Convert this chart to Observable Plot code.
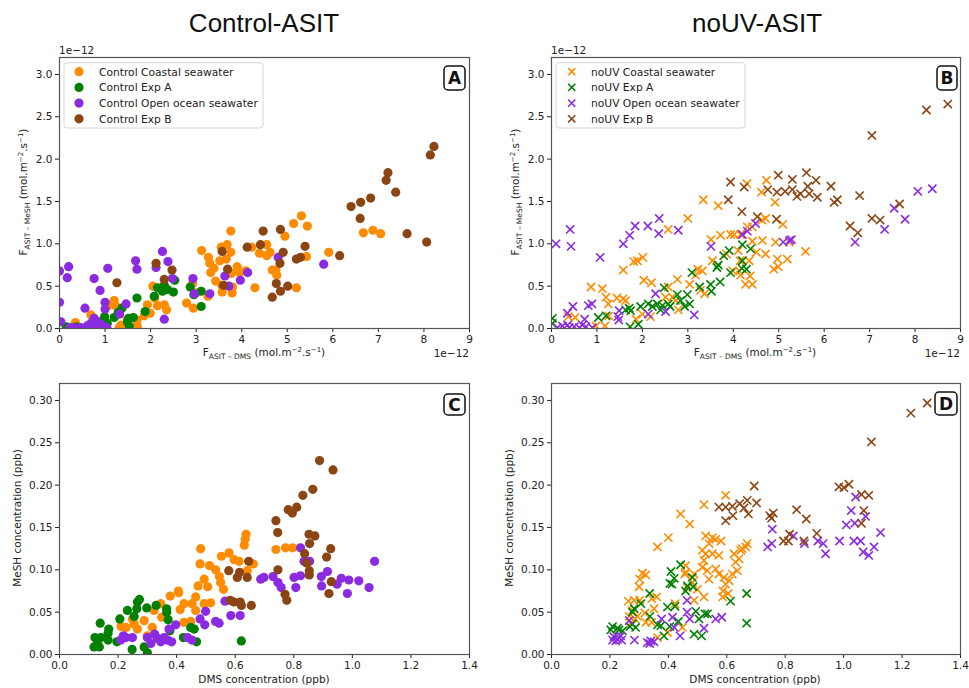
<!DOCTYPE html>
<html><head><meta charset="utf-8">
<script src="https://cdn.jsdelivr.net/npm/d3@7"></script>
<script src="https://cdn.jsdelivr.net/npm/@observablehq/plot@0.6"></script>
<style>
body{margin:0;background:#fff;}
#wrap{position:relative;width:969px;height:688px;font-family:"DejaVu Sans",sans-serif;overflow:hidden;}
.title{position:absolute;top:8px;font-family:"Liberation Sans",Arial,sans-serif;font-size:26px;line-height:30px;color:#111;width:300px;text-align:center;}
.panel{position:absolute;}
</style></head><body>
<div id="wrap">
<div class="title" style="left:114px">Control-ASIT</div>
<div class="title" style="left:607px">noUV-ASIT</div>
</div>
<script>
// ---------- DATA ----------
const seriesColors = ["#ff8c00", "#008000", "#8a2be2", "#8b4513"];
const controlLabels = ["Control Coastal seawater", "Control Exp A", "Control Open ocean seawater", "Control Exp B"];
const noUVLabels = ["noUV Coastal seawater", "noUV Exp A", "noUV Open ocean seawater", "noUV Exp B"];
const fluxTicksX = [0,1,2,3,4,5,6,7,8,9];
const fluxTicksY = [0,0.5,1.0,1.5,2.0,2.5,3.0];
const concTicksX = [0,0.2,0.4,0.6,0.8,1.0,1.2,1.4];
const concTicksY = [0,0.05,0.10,0.15,0.20,0.25,0.30];

// Panel A: Control fluxes [F_DMS (1e-12), F_MeSH (1e-12)]
const ctrlCoastalFlux = [[5.31,1.33],[5.14,1.24],[5.44,1.21],[4.95,1.09],[3.76,1.15],[6.67,1.13],[6.88,1.16],[7.05,1.12],[5.91,0.90],[5.42,0.85],[4.55,0.99],[4.39,0.89],[4.55,0.86],[4.62,0.90],[4.22,0.96],[3.12,0.92],[3.55,0.96],[3.68,0.99],[3.76,0.90],[3.66,0.82],[3.52,0.80],[3.27,0.84],[3.30,0.77],[3.39,0.71],[3.32,0.66],[3.43,0.56],[3.90,0.73],[3.95,0.66],[4.09,0.68],[3.77,0.65],[4.67,0.69],[4.75,0.69],[4.77,0.63],[4.29,0.48],[5.20,0.48],[3.57,0.43],[3.79,0.42],[3.80,0.49],[3.56,0.51],[2.92,0.53],[3.00,0.42],[3.26,0.38],[2.79,0.30],[2.94,0.24],[2.05,0.50],[2.09,0.36],[1.93,0.28],[2.15,0.27],[1.99,0.18],[2.30,0.28],[2.35,0.22],[1.86,0.15],[1.20,0.33],[1.23,0.27],[1.07,0.27],[0.69,0.16],[0.81,0.09],[0.35,0.07],[1.35,0.04],[1.70,0.04],[1.70,0.10],[1.49,0.11],[1.31,0.01],[1.71,0.01]];
const ctrlExpAFlux = [[2.53,0.57],[2.30,0.51],[2.15,0.48],[2.26,0.44],[2.37,0.46],[2.50,0.43],[2.08,0.38],[2.87,0.49],[2.95,0.40],[3.11,0.44],[3.11,0.26],[1.70,0.36],[1.88,0.20],[1.37,0.24],[1.29,0.19],[1.20,0.13],[0.99,0.14],[1.52,0.12],[1.62,0.13],[1.49,0.08],[1.53,0.03],[1.05,0.06],[0.91,0.08],[0.15,0.02],[0.37,0.02],[0.58,0.01]];
const ctrlOpenFlux = [[2.26,0.91],[2.38,0.79],[2.12,0.72],[1.67,0.80],[1.70,0.70],[1.06,0.71],[0.20,0.73],[0.00,0.68],[0.17,0.60],[0.76,0.59],[0.89,0.45],[0.56,0.24],[1.00,0.31],[1.00,0.23],[1.46,0.29],[1.32,0.17],[0.00,0.31],[0.03,0.08],[2.30,0.11],[2.48,0.59],[2.93,0.59],[2.96,0.41],[3.30,0.41],[3.63,0.62],[3.72,0.50],[3.97,0.57],[4.13,0.66],[4.80,0.84],[5.80,0.76],[0.69,0.06],[0.76,0.12],[0.83,0.08],[0.91,0.05],[0.98,0.02],[0.61,0.03],[0.47,0.01],[0.32,0.01],[0.23,0.01],[0.80,0.01],[0.73,0.01],[0.89,0.01],[1.04,0.01]];
const ctrlExpBFlux = [[8.22,2.15],[8.14,2.05],[7.21,1.84],[7.17,1.75],[7.38,1.61],[6.83,1.54],[6.61,1.49],[6.40,1.44],[6.60,1.30],[7.63,1.12],[8.06,1.02],[6.15,0.86],[4.47,1.15],[4.85,1.17],[4.41,0.99],[4.12,0.96],[5.39,0.97],[4.91,0.90],[5.29,0.84],[5.20,0.82],[4.84,0.77],[3.57,0.91],[3.69,0.70],[3.60,0.51],[4.76,0.53],[5.01,0.50],[4.85,0.44],[4.67,0.37],[1.26,0.54],[2.12,0.77],[2.47,0.69],[2.30,0.58]];

// Panel B: noUV fluxes
const noUVCoastalFlux = [[4.30,1.71],[4.73,1.75],[4.62,1.61],[3.34,1.52],[3.67,1.45],[3.00,1.30],[2.57,1.17],[4.71,1.30],[4.63,1.28],[5.09,1.23],[4.92,1.49],[4.31,1.20],[4.42,1.20],[3.72,1.10],[3.94,1.11],[4.02,1.11],[4.16,1.11],[3.51,1.05],[4.42,1.03],[4.64,1.04],[4.93,1.02],[5.23,1.02],[5.59,0.91],[4.51,0.90],[4.71,0.88],[4.11,0.92],[3.85,0.88],[3.54,0.80],[4.15,0.80],[4.35,0.80],[4.97,0.82],[5.19,0.82],[4.99,0.73],[4.89,0.70],[4.13,0.68],[4.16,0.63],[4.37,0.62],[4.27,0.52],[4.42,0.52],[3.99,0.68],[3.22,0.70],[3.32,0.68],[3.17,0.63],[3.37,0.41],[3.28,0.45],[3.04,0.52],[2.77,0.58],[2.57,0.49],[2.03,0.57],[2.20,0.54],[1.58,0.69],[1.81,0.79],[1.89,0.80],[2.01,0.84],[0.87,0.49],[1.12,0.47],[1.20,0.37],[1.25,0.29],[1.44,0.36],[1.57,0.35],[1.63,0.33],[1.86,0.11],[2.00,0.17],[2.18,0.14],[2.66,0.37],[2.73,0.33],[2.79,0.22],[2.51,0.37],[0.52,0.13],[0.37,0.14],[0.98,0.03],[1.18,0.03],[1.26,0.15]];
const noUVExpAFlux = [[3.91,0.92],[3.79,0.86],[4.20,0.99],[4.38,0.94],[4.20,0.80],[4.19,0.71],[4.29,0.70],[3.94,0.66],[3.67,0.75],[3.64,0.72],[3.71,0.55],[3.50,0.52],[3.52,0.44],[3.26,0.49],[3.09,0.66],[2.99,0.40],[3.04,0.29],[2.93,0.26],[2.77,0.40],[2.48,0.48],[2.57,0.29],[2.61,0.26],[2.44,0.27],[2.33,0.29],[2.22,0.26],[2.13,0.29],[1.96,0.26],[1.71,0.24],[1.63,0.22],[1.74,0.21],[1.20,0.15],[1.03,0.13],[0.02,0.12],[0.02,0.06],[1.73,0.02],[1.91,0.05],[2.84,0.33],[2.40,0.22]];
const noUVOpenFlux = [[8.38,1.65],[8.06,1.62],[7.54,1.42],[7.78,1.29],[7.33,1.17],[6.68,1.02],[4.49,1.24],[4.31,1.15],[4.20,1.11],[5.10,1.02],[5.24,1.04],[5.28,1.05],[3.51,0.97],[2.37,1.30],[2.12,1.21],[1.84,1.21],[1.72,1.10],[1.58,1.00],[2.36,1.12],[2.79,1.16],[0.41,1.17],[0.43,0.97],[0.10,1.00],[1.07,0.84],[2.29,0.41],[2.13,0.17],[2.51,0.20],[3.14,0.16],[0.47,0.26],[0.35,0.18],[0.81,0.27],[0.89,0.29],[1.49,0.21],[1.46,0.14],[1.48,0.10],[0.73,0.11],[0.13,0.01],[0.24,0.03],[0.35,0.04],[0.50,0.02],[0.61,0.01],[0.76,0.02],[0.90,0.01],[0.39,0.01],[0.68,0.04]];
const noUVExpBFlux = [[8.72,2.65],[8.25,2.58],[7.05,2.28],[5.61,1.84],[4.99,1.81],[5.30,1.76],[5.82,1.75],[3.94,1.73],[4.24,1.67],[5.64,1.68],[6.15,1.68],[4.76,1.64],[4.96,1.61],[5.14,1.62],[5.30,1.64],[5.48,1.59],[5.40,1.56],[5.67,1.59],[5.85,1.55],[6.22,1.49],[6.29,1.52],[6.78,1.57],[3.89,1.52],[4.19,1.38],[4.53,1.32],[4.95,1.29],[7.05,1.30],[7.23,1.28],[6.57,1.21],[6.74,1.13],[7.66,1.47]];

// Panel C: Control concentrations [DMS ppb, MeSH ppb]
const ctrlCoastalConc = [[0.637,0.142],[0.634,0.136],[0.631,0.129],[0.739,0.124],[0.772,0.126],[0.796,0.126],[0.482,0.125],[0.579,0.120],[0.553,0.116],[0.596,0.112],[0.613,0.110],[0.662,0.107],[0.641,0.099],[0.480,0.107],[0.512,0.105],[0.533,0.100],[0.546,0.092],[0.550,0.085],[0.560,0.077],[0.494,0.089],[0.473,0.081],[0.506,0.080],[0.406,0.075],[0.407,0.073],[0.378,0.069],[0.346,0.060],[0.425,0.060],[0.453,0.060],[0.465,0.068],[0.465,0.052],[0.412,0.053],[0.516,0.061],[0.494,0.060],[0.425,0.038],[0.448,0.039],[0.323,0.052],[0.349,0.044],[0.289,0.040],[0.249,0.042],[0.255,0.036],[0.227,0.032],[0.210,0.033],[0.266,0.030],[0.300,0.022],[0.317,0.032]];
const ctrlExpAConc = [[0.273,0.065],[0.266,0.062],[0.298,0.055],[0.264,0.054],[0.232,0.052],[0.330,0.058],[0.366,0.054],[0.366,0.050],[0.371,0.041],[0.206,0.042],[0.255,0.045],[0.139,0.037],[0.168,0.030],[0.166,0.025],[0.121,0.020],[0.141,0.020],[0.130,0.016],[0.118,0.009],[0.136,0.009],[0.166,0.017],[0.196,0.015],[0.248,0.006],[0.289,0.009],[0.300,0.002],[0.448,0.032],[0.460,0.030],[0.468,0.015],[0.621,0.016],[0.423,0.020],[0.377,0.028]];
const ctrlOpenConc = [[1.076,0.110],[0.823,0.126],[0.835,0.110],[0.854,0.110],[0.687,0.089],[0.698,0.091],[0.729,0.092],[0.746,0.085],[0.757,0.079],[0.801,0.091],[0.823,0.093],[0.807,0.079],[0.894,0.092],[0.895,0.081],[0.915,0.098],[0.948,0.083],[0.962,0.090],[0.983,0.072],[0.988,0.088],[1.022,0.087],[1.057,0.079],[0.565,0.063],[0.585,0.046],[0.617,0.046],[0.533,0.039],[0.545,0.037],[0.499,0.051],[0.496,0.035],[0.480,0.042],[0.437,0.020],[0.452,0.017],[0.397,0.035],[0.374,0.030],[0.357,0.020],[0.346,0.015],[0.325,0.024],[0.312,0.013],[0.334,0.019],[0.369,0.017],[0.383,0.015],[0.300,0.020],[0.227,0.020],[0.249,0.020],[0.209,0.017],[0.218,0.022]];
const ctrlExpBConc = [[0.888,0.229],[0.934,0.218],[0.865,0.195],[0.831,0.188],[0.810,0.174],[0.781,0.171],[0.795,0.167],[0.739,0.158],[0.745,0.144],[0.852,0.142],[0.872,0.140],[0.854,0.131],[0.926,0.125],[0.837,0.119],[0.844,0.108],[0.912,0.115],[0.853,0.099],[0.853,0.094],[0.746,0.100],[0.928,0.086],[0.920,0.072],[0.770,0.071],[0.776,0.064],[0.646,0.110],[0.641,0.091],[0.615,0.097],[0.607,0.091],[0.578,0.099],[0.583,0.064],[0.596,0.062],[0.617,0.062],[0.621,0.058],[0.655,0.058]];

// Panel D: noUV concentrations
const noUVCoastalConc = [[0.596,0.188],[0.522,0.177],[0.442,0.166],[0.473,0.154],[0.400,0.138],[0.363,0.127],[0.528,0.140],[0.551,0.138],[0.562,0.136],[0.580,0.134],[0.539,0.131],[0.516,0.123],[0.528,0.119],[0.551,0.119],[0.573,0.117],[0.522,0.111],[0.516,0.103],[0.533,0.099],[0.562,0.101],[0.573,0.095],[0.539,0.089],[0.590,0.091],[0.596,0.083],[0.608,0.087],[0.587,0.075],[0.586,0.068],[0.605,0.072],[0.619,0.095],[0.636,0.099],[0.630,0.109],[0.642,0.113],[0.625,0.119],[0.648,0.123],[0.665,0.127],[0.653,0.125],[0.670,0.131],[0.459,0.105],[0.457,0.095],[0.488,0.095],[0.482,0.085],[0.499,0.077],[0.488,0.064],[0.522,0.068],[0.465,0.079],[0.311,0.096],[0.302,0.089],[0.300,0.080],[0.323,0.094],[0.263,0.063],[0.283,0.064],[0.302,0.064],[0.360,0.068],[0.343,0.066],[0.277,0.052],[0.266,0.045],[0.294,0.045],[0.271,0.037],[0.286,0.042],[0.320,0.049],[0.351,0.054],[0.323,0.038],[0.343,0.038],[0.363,0.020],[0.397,0.026],[0.423,0.060],[0.448,0.032],[0.459,0.097]];
const noUVExpAConc = [[0.482,0.091],[0.485,0.080],[0.459,0.075],[0.465,0.081],[0.442,0.106],[0.409,0.098],[0.405,0.084],[0.412,0.083],[0.420,0.090],[0.423,0.057],[0.397,0.056],[0.613,0.063],[0.668,0.072],[0.668,0.037],[0.336,0.072],[0.306,0.060],[0.283,0.054],[0.277,0.050],[0.337,0.045],[0.363,0.035],[0.374,0.034],[0.385,0.022],[0.405,0.033],[0.434,0.039],[0.488,0.024],[0.514,0.022],[0.494,0.051],[0.505,0.042],[0.525,0.048],[0.534,0.048],[0.268,0.033],[0.288,0.032],[0.209,0.033],[0.226,0.031],[0.231,0.029],[0.203,0.029],[0.243,0.028],[0.277,0.036]];
const noUVOpenConc = [[1.075,0.163],[1.041,0.186],[1.026,0.170],[1.009,0.153],[1.038,0.155],[1.126,0.144],[1.104,0.127],[1.086,0.117],[1.067,0.121],[1.058,0.134],[1.035,0.134],[0.986,0.134],[0.912,0.134],[0.930,0.131],[0.938,0.119],[0.866,0.131],[0.828,0.140],[0.756,0.148],[0.754,0.131],[0.740,0.127],[0.583,0.044],[0.562,0.042],[0.464,0.064],[0.464,0.050],[0.473,0.042],[0.414,0.044],[0.420,0.032],[0.440,0.022],[0.377,0.042],[0.522,0.031],[0.266,0.040],[0.284,0.017],[0.214,0.021],[0.226,0.018],[0.231,0.020],[0.237,0.022],[0.220,0.016],[0.209,0.017],[0.240,0.017],[0.328,0.014],[0.340,0.016],[0.351,0.015],[0.336,0.013]];
const noUVExpBConc = [[1.286,0.297],[1.230,0.285],[1.095,0.251],[0.694,0.199],[0.984,0.198],[1.001,0.197],[1.018,0.201],[1.061,0.189],[1.086,0.188],[1.069,0.170],[1.061,0.155],[0.596,0.174],[0.573,0.174],[0.619,0.175],[0.644,0.178],[0.670,0.182],[0.702,0.179],[0.659,0.173],[0.674,0.166],[0.596,0.158],[0.621,0.164],[0.747,0.164],[0.759,0.167],[0.753,0.161],[0.839,0.171],[0.872,0.160],[0.908,0.143],[0.815,0.142],[0.811,0.134],[0.794,0.134],[0.864,0.134]];

// ---------- DRAWING ----------
const FONT = "DejaVu Sans";
const wrap = document.getElementById("wrap");

function addLabel(g, x, y, parts, rotate) {
  const t = g.append("text")
    .attr("font-family", FONT).attr("font-size", 10.5).attr("fill", "#222")
    .attr("text-anchor", "middle")
    .attr("transform", `translate(${x},${y})` + (rotate ? " rotate(-90)" : ""));
  parts.forEach(p => {
    const ts = t.append("tspan").text(p.t);
    if (p.sub) ts.attr("font-size", 7.5).attr("dy", 2.5);
    else if (p.sup) ts.attr("font-size", 7).attr("dy", -4);
    if (p.back) ts.attr("dy", p.back);
  });
  return t;
}

function fluxLabel(kind) {
  return [
    {t: "F"}, {t: "ASIT – " + kind, sub: true},
    {t: " (mol.m", back: -2.5}, {t: "−2", sup: true}, {t: ".s", back: 4}, {t: "−1", sup: true}, {t: ")", back: 4}
  ];
}

function panel(cfg) {
  const div = document.createElement("div");
  div.className = "panel";
  div.style.left = cfg.left + "px";
  div.style.top = cfg.top + "px";
  wrap.appendChild(div);

  const marks = [
    Plot.axisX({ticks: cfg.xTicks, tickFormat: cfg.xFmt, tickSize: 4, tickPadding: 3, label: null, fontSize: 10.5}),
    Plot.axisY({ticks: cfg.yTicks, tickFormat: cfg.yFmt, tickSize: 4, tickPadding: 3, label: null, fontSize: 10.5})
  ];
  cfg.series.forEach((s, i) => {
    if (cfg.cross) {
      marks.push(Plot.dot(s, {x: d => d[0], y: d => d[1], symbol: "times", stroke: seriesColors[i], strokeWidth: 1.6, r: 3.8, clip: true}));
    } else {
      marks.push(Plot.dot(s, {x: d => d[0], y: d => d[1], fill: seriesColors[i], r: 4.6, clip: true}));
    }
  });
  marks.push(Plot.frame({stroke: "#555", strokeWidth: 1.2}));

  const svg = Plot.plot({
    width: cfg.width, height: cfg.height,
    marginLeft: cfg.ml, marginRight: cfg.mr, marginTop: cfg.mt, marginBottom: cfg.mb,
    x: {domain: cfg.xDomain},
    y: {domain: cfg.yDomain},
    style: {fontFamily: FONT, fontSize: "10.5px", color: "#222", background: "transparent", overflow: "visible"},
    marks
  });
  div.appendChild(svg);
  const g = d3.select(svg).append("g");

  // axis labels
  addLabel(g, cfg.xLabelX, cfg.xLabelY, cfg.xLabel, false);
  addLabel(g, cfg.yLabelX, cfg.yLabelY, cfg.yLabel, true);

  // offset texts
  if (cfg.offset) {
    g.append("text").attr("x", cfg.ml).attr("y", 14).attr("text-anchor", "start").attr("font-family", FONT).attr("font-size", 10.5).attr("fill", "#222").text("1e−12");
    g.append("text").attr("x", cfg.width - cfg.mr).attr("y", 317).attr("text-anchor", "end").attr("font-family", FONT).attr("font-size", 10.5).attr("fill", "#222").text("1e−12");
  }

  // legend
  if (cfg.legend) {
    const L = cfg.legend;
    g.append("rect").attr("x", L.x).attr("y", L.y).attr("width", L.w).attr("height", L.h).attr("rx", 3)
      .attr("fill", "white").attr("fill-opacity", 0.8).attr("stroke", "#d6d6d6");
    L.labels.forEach((lab, i) => {
      const yy = L.y + 9 + i * 15.7;
      if (cfg.cross) {
        g.append("path").attr("d", `M${L.mx-3.6},${yy-3.6}L${L.mx+3.6},${yy+3.6}M${L.mx-3.6},${yy+3.6}L${L.mx+3.6},${yy-3.6}`)
          .attr("stroke", seriesColors[i]).attr("stroke-width", 1.6);
      } else {
        g.append("circle").attr("cx", L.mx).attr("cy", yy).attr("r", 4.6).attr("fill", seriesColors[i]);
      }
      g.append("text").attr("x", L.tx).attr("y", yy + 3.8).attr("text-anchor", "start").attr("font-family", FONT).attr("font-size", 10.7).attr("fill", "#222").text(lab);
    });
  }

  // panel letter
  const B = cfg.box;
  g.append("rect").attr("x", B.x).attr("y", B.y).attr("width", B.w).attr("height", B.h).attr("rx", 4)
    .attr("fill", "white").attr("stroke", "#111").attr("stroke-width", 1.5);
  g.append("text").attr("x", B.x + B.w / 2).attr("y", B.y + B.h / 2 + 6).attr("text-anchor", "middle")
    .attr("font-family", FONT).attr("font-weight", "bold").attr("font-size", 17).attr("fill", "#111").text(cfg.letter);
}

const f1 = d3.format(".1f"), f2 = d3.format(".2f"), f0 = d3.format("d");

panel({left: 0, top: 40, width: 480, height: 330, ml: 59, mr: 11, mt: 17, mb: 42,
  xDomain: [0, 9], yDomain: [0, 3.2], xTicks: fluxTicksX, yTicks: fluxTicksY, xFmt: f0, yFmt: f1,
  series: [ctrlCoastalFlux, ctrlExpAFlux, ctrlOpenFlux, ctrlExpBFlux], cross: false, offset: true,
  xLabel: fluxLabel("DMS"), xLabelX: 264, xLabelY: 316,
  yLabel: fluxLabel("MeSH"), yLabelX: 27, yLabelY: 152,
  legend: {x: 64, y: 22.7, w: 199, h: 65.3, mx: 79, tx: 99, labels: controlLabels},
  box: {x: 444, y: 26, w: 21, h: 24}, letter: "A"});

panel({left: 485, top: 40, width: 484, height: 330, ml: 66, mr: 9, mt: 17, mb: 42,
  xDomain: [0, 9], yDomain: [0, 3.2], xTicks: fluxTicksX, yTicks: fluxTicksY, xFmt: f0, yFmt: f1,
  series: [noUVCoastalFlux, noUVExpAFlux, noUVOpenFlux, noUVExpBFlux], cross: true, offset: true,
  xLabel: fluxLabel("DMS"), xLabelX: 270, xLabelY: 316,
  yLabel: fluxLabel("MeSH"), yLabelX: 34, yLabelY: 152,
  legend: {x: 71, y: 22.7, w: 189, h: 65.3, mx: 86.7, tx: 106, labels: noUVLabels},
  box: {x: 452, y: 26, w: 20, h: 24}, letter: "B"});

panel({left: 0, top: 370, width: 480, height: 318, ml: 59, mr: 11, mt: 13, mb: 34,
  xDomain: [0, 1.4], yDomain: [0, 0.32], xTicks: concTicksX, yTicks: concTicksY, xFmt: f1, yFmt: f2,
  series: [ctrlCoastalConc, ctrlExpAConc, ctrlOpenConc, ctrlExpBConc], cross: false, offset: false,
  xLabel: [{t: "DMS concentration (ppb)"}], xLabelX: 264, xLabelY: 313,
  yLabel: [{t: "MeSH concentration (ppb)"}], yLabelX: 21, yLabelY: 148,
  box: {x: 444, y: 24, w: 21, h: 21}, letter: "C"});

panel({left: 485, top: 370, width: 484, height: 318, ml: 66, mr: 9, mt: 13, mb: 34,
  xDomain: [0, 1.4], yDomain: [0, 0.32], xTicks: concTicksX, yTicks: concTicksY, xFmt: f1, yFmt: f2,
  series: [noUVCoastalConc, noUVExpAConc, noUVOpenConc, noUVExpBConc], cross: true, offset: false,
  xLabel: [{t: "DMS concentration (ppb)"}], xLabelX: 270, xLabelY: 313,
  yLabel: [{t: "MeSH concentration (ppb)"}], yLabelX: 28, yLabelY: 148,
  box: {x: 450, y: 22, w: 22, h: 23}, letter: "D"});
</script>
</body></html>
